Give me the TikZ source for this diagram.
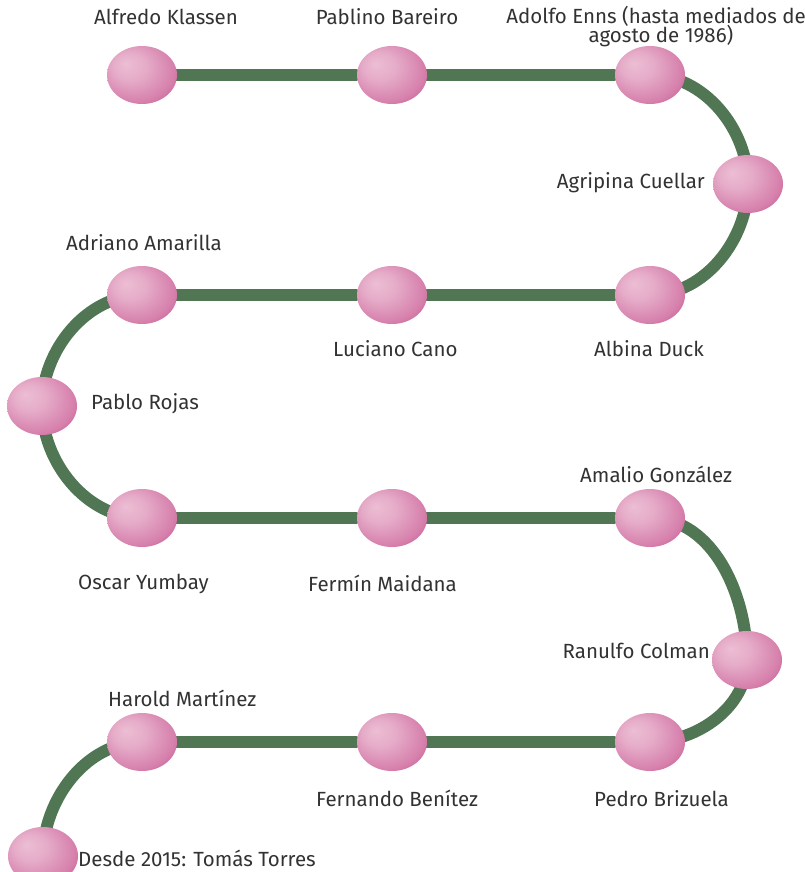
\documentclass[tikz,border=0pt]{standalone}
\usepackage{fontspec}
\setmainfont{Fira Sans}
\usetikzlibrary{shapes.geometric}
\pgfdeclarelayer{background}
\pgfsetlayers{background,main}
\definecolor{linegreen}{RGB}{80,118,84}
\definecolor{pinkhi}{RGB}{236,190,212}
\definecolor{pinkmid}{RGB}{214,128,172}
\definecolor{pinkdark}{RGB}{192,72,132}
\definecolor{txt}{RGB}{50,50,50}
\pgfdeclareradialshading{pinkball}{\pgfpoint{-12bp}{10bp}}{color(0bp)=(pinkhi); color(12bp)=(pinkhi!70!pinkmid); color(28bp)=(pinkmid); color(40bp)=(pinkdark); color(50bp)=(pinkdark!90!black)}
\tikzset{
  ball/.style={ellipse, minimum width=70pt, minimum height=58pt, inner sep=0pt, shading=pinkball},
  lbl/.style={font=\fontsize{20.5}{23}\selectfont, text=txt, inner sep=0pt, anchor=base west},
  track/.style={draw=linegreen, line width=12pt}
}
\begin{document}
\begin{tikzpicture}[x=1pt,y=-1pt]
\useasboundingbox (0,0) rectangle (805,872);
% balls
\node[ball] (b1) at (142,75) {};
\node[ball] (b2) at (392,75) {};
\node[ball] (b3) at (650,75) {};
\node[ball] (b4) at (748,184) {};
\node[ball] (b5) at (650,295) {};
\node[ball] (b6) at (392,295) {};
\node[ball] (b7) at (142,295) {};
\node[ball] (b8) at (42,406) {};
\node[ball] (b9) at (142,518) {};
\node[ball] (b10) at (392,518) {};
\node[ball] (b11) at (650,518) {};
\node[ball] (b12) at (747,660) {};
\node[ball] (b13) at (650,742) {};
\node[ball] (b14) at (392,742) {};
\node[ball] (b15) at (142,742) {};
\node[ball] (b16) at (43,856) {};
% track
\begin{pgfonlayer}{background}
\draw[track] (b1.center) -- (b2.center) -- (b3.center);
\draw[track] (b3.center) to[out=0,in=90,looseness=0.95] (b4.center) to[out=-90,in=0,looseness=0.95] (b5.center);
\draw[track] (b5.center) -- (b6.center) -- (b7.center);
\draw[track] (b7.center) to[out=180,in=90,looseness=0.95] (b8.center) to[out=-90,in=180,looseness=0.95] (b9.center);
\draw[track] (b9.center) -- (b10.center) -- (b11.center);
\draw[track] (b11.center) to[out=0,in=90,looseness=0.95] (b12.center) to[out=-90,in=0,looseness=0.95] (b13.center);
\draw[track] (b13.center) -- (b14.center) -- (b15.center);
\draw[track] (b15.center) to[out=180,in=90,looseness=0.95] (b16.center);
\end{pgfonlayer}
% labels
\node[lbl, anchor=base] (l1) at (166,25) {Alfredo Klassen};
\node[lbl, anchor=base] (l2) at (387,25) {Pablino Bareiro};
\node[lbl, anchor=base] (l3) at (656,24) {Adolfo Enns (hasta mediados de};
\node[lbl, anchor=base] (l3b) at (661,43) {agosto de 1986)};
\node[lbl, anchor=base east] (l4) at (705,188) {Agripina Cuellar};
\node[lbl] (l7) at (66,250) {Adriano Amarilla};
\node[lbl] (l6) at (333,356) {Luciano Cano};
\node[lbl] (l5) at (594,356) {Albina Duck};
\node[lbl] (l8) at (91,409) {Pablo Rojas};
\node[lbl] (l11) at (580,482) {Amalio González};
\node[lbl] (l9) at (78,589) {Oscar Yumbay};
\node[lbl] (l10) at (308,591) {Fermín Maidana};
\node[lbl, anchor=base east] (l12) at (710,658) {Ranulfo Colman};
\node[lbl] (l15) at (108,706) {Harold Martínez};
\node[lbl] (l14) at (316,806) {Fernando Benítez};
\node[lbl] (l13) at (594,806) {Pedro Brizuela};
\node[lbl] (l16) at (78,866) {Desde 2015: Tomás Torres};
\end{tikzpicture}
\end{document}
